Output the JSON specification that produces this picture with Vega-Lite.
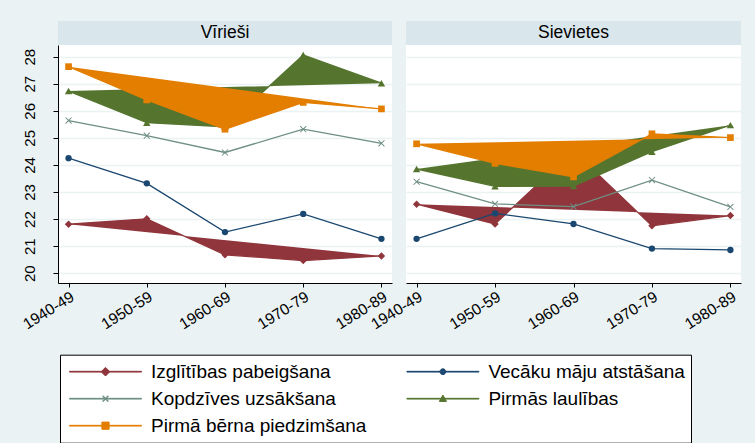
{
  "$schema": "https://vega.github.io/schema/vega-lite/v6.json",
  "background": "#EAF2F3",
  "padding": {"left": 20, "top": 21, "right": 14, "bottom": 0},
  "autosize": {"type": "pad"},
  "config": {
    "view": {"stroke": null},
    "font": "Liberation Sans",
    "axis": {"title": null, "labelFont": "Liberation Sans", "labelColor": "black", "tickColor": "black", "domainColor": "black"}
  },
  "data": {"values": [
    {"sex": "Vīrieši", "cohort": "1940-49", "series": "Izglītības pabeigšana", "value": 21.81},
    {"sex": "Vīrieši", "cohort": "1950-59", "series": "Izglītības pabeigšana", "value": 22.01},
    {"sex": "Vīrieši", "cohort": "1960-69", "series": "Izglītības pabeigšana", "value": 20.68},
    {"sex": "Vīrieši", "cohort": "1970-79", "series": "Izglītības pabeigšana", "value": 20.47},
    {"sex": "Vīrieši", "cohort": "1980-89", "series": "Izglītības pabeigšana", "value": 20.64},
    {"sex": "Vīrieši", "cohort": "1940-49", "series": "Vecāku māju atstāšana", "value": 24.25},
    {"sex": "Vīrieši", "cohort": "1950-59", "series": "Vecāku māju atstāšana", "value": 23.32},
    {"sex": "Vīrieši", "cohort": "1960-69", "series": "Vecāku māju atstāšana", "value": 21.52},
    {"sex": "Vīrieši", "cohort": "1970-79", "series": "Vecāku māju atstāšana", "value": 22.19},
    {"sex": "Vīrieši", "cohort": "1980-89", "series": "Vecāku māju atstāšana", "value": 21.27},
    {"sex": "Vīrieši", "cohort": "1940-49", "series": "Kopdzīves uzsākšana", "value": 25.64},
    {"sex": "Vīrieši", "cohort": "1950-59", "series": "Kopdzīves uzsākšana", "value": 25.08},
    {"sex": "Vīrieši", "cohort": "1960-69", "series": "Kopdzīves uzsākšana", "value": 24.46},
    {"sex": "Vīrieši", "cohort": "1970-79", "series": "Kopdzīves uzsākšana", "value": 25.32},
    {"sex": "Vīrieši", "cohort": "1980-89", "series": "Kopdzīves uzsākšana", "value": 24.80},
    {"sex": "Vīrieši", "cohort": "1940-49", "series": "Pirmās laulības", "value": 26.73},
    {"sex": "Vīrieši", "cohort": "1950-59", "series": "Pirmās laulības", "value": 25.56},
    {"sex": "Vīrieši", "cohort": "1960-69", "series": "Pirmās laulības", "value": 25.41},
    {"sex": "Vīrieši", "cohort": "1970-79", "series": "Pirmās laulības", "value": 28.06},
    {"sex": "Vīrieši", "cohort": "1980-89", "series": "Pirmās laulības", "value": 27.02},
    {"sex": "Vīrieši", "cohort": "1940-49", "series": "Pirmā bērna piedzimšana", "value": 27.63},
    {"sex": "Vīrieši", "cohort": "1950-59", "series": "Pirmā bērna piedzimšana", "value": 26.40},
    {"sex": "Vīrieši", "cohort": "1960-69", "series": "Pirmā bērna piedzimšana", "value": 25.32},
    {"sex": "Vīrieši", "cohort": "1970-79", "series": "Pirmā bērna piedzimšana", "value": 26.31},
    {"sex": "Vīrieši", "cohort": "1980-89", "series": "Pirmā bērna piedzimšana", "value": 26.07},
    {"sex": "Sievietes", "cohort": "1940-49", "series": "Izglītības pabeigšana", "value": 22.55},
    {"sex": "Sievietes", "cohort": "1950-59", "series": "Izglītības pabeigšana", "value": 21.82},
    {"sex": "Sievietes", "cohort": "1960-69", "series": "Izglītības pabeigšana", "value": 24.52},
    {"sex": "Sievietes", "cohort": "1970-79", "series": "Izglītības pabeigšana", "value": 21.75},
    {"sex": "Sievietes", "cohort": "1980-89", "series": "Izglītības pabeigšana", "value": 22.13},
    {"sex": "Sievietes", "cohort": "1940-49", "series": "Vecāku māju atstāšana", "value": 21.27},
    {"sex": "Sievietes", "cohort": "1950-59", "series": "Vecāku māju atstāšana", "value": 22.21},
    {"sex": "Sievietes", "cohort": "1960-69", "series": "Vecāku māju atstāšana", "value": 21.82},
    {"sex": "Sievietes", "cohort": "1970-79", "series": "Vecāku māju atstāšana", "value": 20.91},
    {"sex": "Sievietes", "cohort": "1980-89", "series": "Vecāku māju atstāšana", "value": 20.86},
    {"sex": "Sievietes", "cohort": "1940-49", "series": "Kopdzīves uzsākšana", "value": 23.38},
    {"sex": "Sievietes", "cohort": "1950-59", "series": "Kopdzīves uzsākšana", "value": 22.56},
    {"sex": "Sievietes", "cohort": "1960-69", "series": "Kopdzīves uzsākšana", "value": 22.46},
    {"sex": "Sievietes", "cohort": "1970-79", "series": "Kopdzīves uzsākšana", "value": 23.44},
    {"sex": "Sievietes", "cohort": "1980-89", "series": "Kopdzīves uzsākšana", "value": 22.45},
    {"sex": "Sievietes", "cohort": "1940-49", "series": "Pirmās laulības", "value": 23.85},
    {"sex": "Sievietes", "cohort": "1950-59", "series": "Pirmās laulības", "value": 23.21},
    {"sex": "Sievietes", "cohort": "1960-69", "series": "Pirmās laulības", "value": 23.22},
    {"sex": "Sievietes", "cohort": "1970-79", "series": "Pirmās laulības", "value": 24.49},
    {"sex": "Sievietes", "cohort": "1980-89", "series": "Pirmās laulības", "value": 25.47},
    {"sex": "Sievietes", "cohort": "1940-49", "series": "Pirmā bērna piedzimšana", "value": 24.78},
    {"sex": "Sievietes", "cohort": "1950-59", "series": "Pirmā bērna piedzimšana", "value": 24.06},
    {"sex": "Sievietes", "cohort": "1960-69", "series": "Pirmā bērna piedzimšana", "value": 23.56},
    {"sex": "Sievietes", "cohort": "1970-79", "series": "Pirmā bērna piedzimšana", "value": 25.15},
    {"sex": "Sievietes", "cohort": "1980-89", "series": "Pirmā bērna piedzimšana", "value": 25.01}
  ]},
  "resolve": {"scale": {"color": "shared", "shape": "shared"}, "legend": {"color": "shared", "shape": "shared"}},
  "columns": 2,
  "bounds": "flush",
  "spacing": {"row": 0, "column": 14},
  "concat": [
    {
      "width": 334, "height": 24,
      "view": {"fill": "#D9E6EB", "stroke": null},
      "data": {"values": [{"panel": "Vīrieši"}]},
      "mark": {"type": "text", "fontSize": 17.5, "font": "Liberation Sans", "color": "black"},
      "encoding": {"text": {"field": "panel"}}
    },
    {
      "width": 335, "height": 24,
      "view": {"fill": "#D9E6EB", "stroke": null},
      "data": {"values": [{"panel": "Sievietes"}]},
      "mark": {"type": "text", "fontSize": 17.5, "font": "Liberation Sans", "color": "black"},
      "encoding": {"text": {"field": "panel"}}
    },
    {
      "width": 334, "height": 238,
      "view": {"fill": "white", "stroke": null},
      "transform": [{"filter": "datum.sex === 'Vīrieši'"}],
      "encoding": {
        "x": {"field": "cohort", "type": "ordinal", "scale": {"type": "point", "padding": 0.135},
              "axis": {"labelAngle": -32, "labelFontSize": 15.5, "tickSize": 4, "labelPadding": 2, "grid": false}},
        "y": {"field": "value", "type": "quantitative", "scale": {"domain": [19.64, 28.43], "nice": false, "zero": false},
              "axis": {"values": [20, 21, 22, 23, 24, 25, 26, 27, 28], "labelAngle": 270, "labelFontSize": 15, "tickSize": 5, "labelPadding": 16, "grid": true, "gridColor": "#EAF2F3", "gridWidth": 1.5}}
      },
      "layer": [
        {"transform": [{"filter": "datum.series === 'none'"}],
         "mark": {"type": "point", "filled": true, "opacity": 1},
         "encoding": {
           "color": {"field": "series", "type": "nominal",
             "scale": {"domain": ["Izglītības pabeigšana", "Vecāku māju atstāšana", "Kopdzīves uzsākšana", "Pirmās laulības", "Pirmā bērna piedzimšana"], "range": ["#90353B", "#1A476F", "#6E8E84", "#55752F", "#E37E00"]},
             "legend": {"title": null, "orient": "none", "legendX": 2, "legendY": 333.7, "direction": "horizontal", "columns": 2, "columnPadding": 36.4, "rowPadding": 5, "clipHeight": 22, "symbolSize": 5184, "symbolOffset": 3, "symbolStrokeWidth": 1, "symbolOpacity": 1, "labelFontSize": 19, "labelFont": "Liberation Sans", "labelColor": "black", "labelLimit": 400, "labelOffset": 9, "padding": 6, "strokeColor": "black", "fillColor": "white"}},
           "shape": {"field": "series", "type": "nominal",
             "scale": {"domain": ["Izglītības pabeigšana", "Vecāku māju atstāšana", "Kopdzīves uzsākšana", "Pirmās laulības", "Pirmā bērna piedzimšana"],
               "range": [
                 "M-1,-0.01H1V0.01H-1ZM-0.12,0L0,-0.12L0.12,0L0,0.12Z",
                 "M-1,-0.01H1V0.01H-1ZM-0.08,0A0.08,0.08 0 1,0 0.08,0A0.08,0.08 0 1,0 -0.08,0Z",
                 "M-1,-0.01H1V0.01H-1ZM-0.08,-0.065L-0.065,-0.08L0,-0.015L0.065,-0.08L0.08,-0.065L0.015,0L0.08,0.065L0.065,0.08L0,0.015L-0.065,0.08L-0.08,0.065L-0.015,0Z",
                 "M-1,-0.01H1V0.01H-1ZM-0.1,0.075L0,-0.1L0.1,0.075Z",
                 "M-1,-0.01H1V0.01H-1ZM-0.1,-0.1H0.1V0.1H-0.1Z"]},
             "legend": {"title": null, "orient": "none", "legendX": 2, "legendY": 333.7, "direction": "horizontal", "columns": 2, "columnPadding": 36.4, "rowPadding": 5, "clipHeight": 22, "symbolSize": 5184, "symbolOffset": 3, "symbolStrokeWidth": 1, "symbolOpacity": 1, "labelFontSize": 19, "labelFont": "Liberation Sans", "labelColor": "black", "labelLimit": 400, "labelOffset": 9, "padding": 6, "strokeColor": "black", "fillColor": "white"}}
         }},
        {"transform": [{"filter": "datum.series === 'Izglītības pabeigšana'"}],
         "mark": {"type": "line", "strokeWidth": 1.3, "fill": "#90353B"},
         "encoding": {"color": {"field": "series", "type": "nominal"}}},
        {"transform": [{"filter": "datum.series === 'Izglītības pabeigšana'"}],
         "mark": {"type": "point", "filled": true, "size": 55, "opacity": 1, "color": "#90353B", "shape": "diamond"}},
        {"transform": [{"filter": "datum.series === 'Vecāku māju atstāšana'"}],
         "mark": {"type": "line", "strokeWidth": 1.3},
         "encoding": {"color": {"field": "series", "type": "nominal"}}},
        {"transform": [{"filter": "datum.series === 'Vecāku māju atstāšana'"}],
         "mark": {"type": "point", "filled": true, "size": 40, "opacity": 1, "color": "#1A476F", "shape": "circle"}},
        {"transform": [{"filter": "datum.series === 'Kopdzīves uzsākšana'"}],
         "mark": {"type": "line", "strokeWidth": 1.3},
         "encoding": {"color": {"field": "series", "type": "nominal"}}},
        {"transform": [{"filter": "datum.series === 'Kopdzīves uzsākšana'"}],
         "mark": {"type": "point", "filled": true, "size": 45, "opacity": 1, "color": "#6E8E84", "shape": "M-1,-0.8L-0.8,-1L0,-0.2L0.8,-1L1,-0.8L0.2,0L1,0.8L0.8,1L0,0.2L-0.8,1L-1,0.8L-0.2,0Z"}},
        {"transform": [{"filter": "datum.series === 'Pirmās laulības'"}],
         "mark": {"type": "line", "strokeWidth": 1.3, "fill": "#55752F"},
         "encoding": {"color": {"field": "series", "type": "nominal"}}},
        {"transform": [{"filter": "datum.series === 'Pirmās laulības'"}],
         "mark": {"type": "point", "filled": true, "size": 55, "opacity": 1, "color": "#55752F", "shape": "triangle-up"}},
        {"transform": [{"filter": "datum.series === 'Pirmā bērna piedzimšana'"}],
         "mark": {"type": "line", "strokeWidth": 1.3, "fill": "#E37E00"},
         "encoding": {"color": {"field": "series", "type": "nominal"}}},
        {"transform": [{"filter": "datum.series === 'Pirmā bērna piedzimšana'"}],
         "mark": {"type": "point", "filled": true, "size": 45, "opacity": 1, "color": "#E37E00", "shape": "square"}}
      ]
    },
    {
      "width": 335, "height": 238,
      "view": {"fill": "white", "stroke": null},
      "transform": [{"filter": "datum.sex === 'Sievietes'"}],
      "encoding": {
        "x": {"field": "cohort", "type": "ordinal", "scale": {"type": "point", "padding": 0.135},
              "axis": {"labelAngle": -32, "labelFontSize": 15.5, "tickSize": 4, "labelPadding": 2, "grid": false}},
        "y": {"field": "value", "type": "quantitative", "scale": {"domain": [19.64, 28.43], "nice": false, "zero": false},
              "axis": {"values": [20, 21, 22, 23, 24, 25, 26, 27, 28], "labels": false, "ticks": false, "domain": false, "grid": true, "gridColor": "#EAF2F3", "gridWidth": 1.5}}
      },
      "layer": [
        {"transform": [{"filter": "datum.series === 'Izglītības pabeigšana'"}],
         "mark": {"type": "line", "strokeWidth": 1.3, "fill": "#90353B"},
         "encoding": {"color": {"field": "series", "type": "nominal"}}},
        {"transform": [{"filter": "datum.series === 'Izglītības pabeigšana'"}],
         "mark": {"type": "point", "filled": true, "size": 55, "opacity": 1, "color": "#90353B", "shape": "diamond"}},
        {"transform": [{"filter": "datum.series === 'Vecāku māju atstāšana'"}],
         "mark": {"type": "line", "strokeWidth": 1.3},
         "encoding": {"color": {"field": "series", "type": "nominal"}}},
        {"transform": [{"filter": "datum.series === 'Vecāku māju atstāšana'"}],
         "mark": {"type": "point", "filled": true, "size": 40, "opacity": 1, "color": "#1A476F", "shape": "circle"}},
        {"transform": [{"filter": "datum.series === 'Kopdzīves uzsākšana'"}],
         "mark": {"type": "line", "strokeWidth": 1.3},
         "encoding": {"color": {"field": "series", "type": "nominal"}}},
        {"transform": [{"filter": "datum.series === 'Kopdzīves uzsākšana'"}],
         "mark": {"type": "point", "filled": true, "size": 45, "opacity": 1, "color": "#6E8E84", "shape": "M-1,-0.8L-0.8,-1L0,-0.2L0.8,-1L1,-0.8L0.2,0L1,0.8L0.8,1L0,0.2L-0.8,1L-1,0.8L-0.2,0Z"}},
        {"transform": [{"filter": "datum.series === 'Pirmās laulības'"}],
         "mark": {"type": "line", "strokeWidth": 1.3, "fill": "#55752F"},
         "encoding": {"color": {"field": "series", "type": "nominal"}}},
        {"transform": [{"filter": "datum.series === 'Pirmās laulības'"}],
         "mark": {"type": "point", "filled": true, "size": 55, "opacity": 1, "color": "#55752F", "shape": "triangle-up"}},
        {"transform": [{"filter": "datum.series === 'Pirmā bērna piedzimšana'"}],
         "mark": {"type": "line", "strokeWidth": 1.3, "fill": "#E37E00"},
         "encoding": {"color": {"field": "series", "type": "nominal"}}},
        {"transform": [{"filter": "datum.series === 'Pirmā bērna piedzimšana'"}],
         "mark": {"type": "point", "filled": true, "size": 45, "opacity": 1, "color": "#E37E00", "shape": "square"}}
      ]
    }
  ]
}
